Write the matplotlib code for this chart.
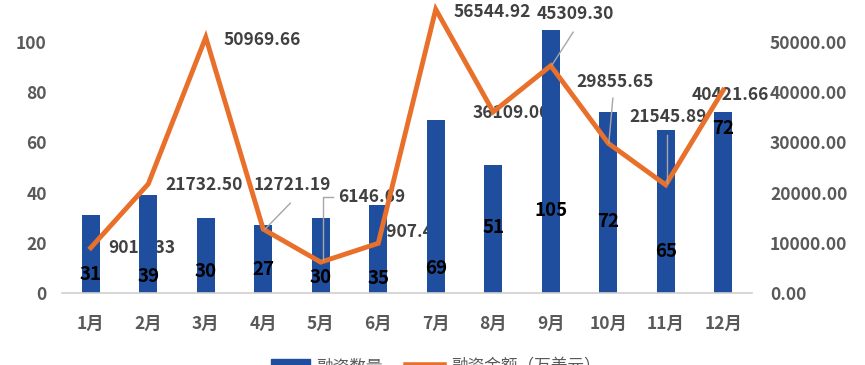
import matplotlib.pyplot as plt
import numpy as np
from matplotlib.lines import Line2D
from matplotlib.patches import Patch

plt.rcParams['font.family'] = ['Noto Sans CJK SC', 'DejaVu Sans']

months = ['1月', '2月', '3月', '4月', '5月', '6月', '7月', '8月', '9月', '10月', '11月', '12月']
counts = [31, 39, 30, 27, 30, 35, 69, 51, 105, 72, 65, 72]
amounts = [9016.33, 21732.50, 50969.66, 12721.19, 6146.69, 9907.49,
           56544.92, 36109.00, 45309.30, 29855.65, 21545.89, 40421.66]

# where Excel left the (dragged) data labels
count_label_y = [7.2, 6.4, 8.4, 9.2, 6.0, 5.6, 9.6, 26.3, 32.7, 28.7, 16.7, 65.7]
amount_label_xy = [(0.89, 8960), (1.97, 21500), (2.98, 50400), (3.50, 21500),
                   (4.89, 19100), (5.55, 12150), (6.98, 55980), (7.31, 35860),
                   (8.42, 55580), (9.12, 42030), (10.04, 35060), (11.12, 39440)]

blue = '#1F4E9E'
orange = '#E8702A'
grey = '#595959'

fig = plt.figure(figsize=(8.65, 3.65), dpi=100)
ax = fig.add_axes([62 / 865, 72 / 365, 690 / 865, 301 / 365])
ax2 = ax.twinx()

x = np.arange(len(months))
ax.bar(x, counts, width=0.31, color=blue, zorder=2)
ax2.plot(x, amounts, color=orange, lw=3.5, solid_joinstyle='miter', zorder=3)

ax.set_xlim(-0.5, len(months) - 0.5)
ax.set_ylim(0, 120)
ax2.set_ylim(0, 60000)
ax.set_yticks(range(0, 121, 20))
ax2.set_yticks(range(0, 60001, 10000))
ax2.set_yticklabels(['%.2f' % v for v in range(0, 60001, 10000)])
ax.set_xticks(x)
ax.set_xticklabels(months)

for a in (ax, ax2):
    for s in a.spines.values():
        s.set_visible(False)
    a.tick_params(length=0, labelsize=12.5, labelcolor=grey)
    for t in a.get_xticklabels() + a.get_yticklabels():
        t.set_fontweight('bold')
ax.spines['bottom'].set_visible(True)
ax.spines['bottom'].set_color('#D0D0D0')
ax.spines['bottom'].set_linewidth(1.2)
ax.tick_params(axis='x', pad=16)
ax.tick_params(axis='y', pad=11)
ax2.tick_params(axis='y', pad=13)

for i, (c, ly) in enumerate(zip(counts, count_label_y)):
    ax.text(i, ly, str(c), ha='center', va='center', fontsize=13.5,
            fontweight='bold', color='black', zorder=5)

# amount labels sit behind the bars (drawn on the bar axes, right-axis units)
for (tx, ty), v in zip(amount_label_xy, amounts):
    ax.text(tx, ty, '%.2f' % v, ha='center', va='center', fontsize=12.5,
            fontweight='bold', color='#404040', zorder=1, transform=ax2.transData)

# leader lines for labels pulled away from their points
leaders = [
    [(3.47, 3.03), (17900, 12721.19)],
    [(4.22, 4.04, 4.04), (19120, 19120, 6570)],
    [(8.39, 8.02), (52000, 45420)],
    [(9.08, 9.01), (38840, 29880)],
    [(10.02, 10.02), (31470, 22000)],
]
for lx, ly in leaders:
    ax2.plot(lx, ly, color='#A6A6A6', lw=1, zorder=4)

handles = [Patch(color=blue), Line2D([0], [0], color=orange, lw=4)]
fig.legend(handles, ['融资数量', '融资金额（万美元）'], loc='center',
           bbox_to_anchor=(0.504, -0.005), ncol=2, frameon=False, fontsize=12,
           labelcolor=grey, handlelength=2.3, handleheight=0.8, columnspacing=1.4,
           handletextpad=0.4)

fig.savefig('out.png', dpi=100)
